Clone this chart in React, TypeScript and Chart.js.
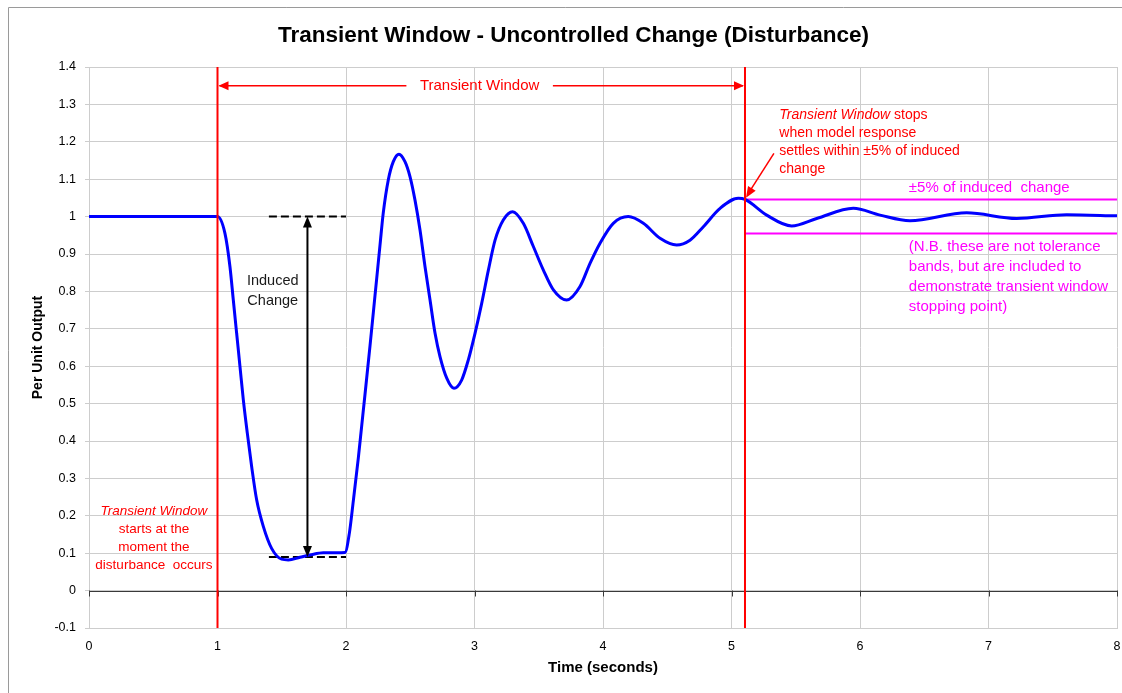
import React, { useEffect, useRef } from "react";
import { Chart, registerables } from "chart.js";

Chart.register(...registerables);

// ---------- data ----------
const timeSeconds = [
  0, 1.0, 1.058, 1.097, 1.123, 1.149, 1.175, 1.201, 1.232, 1.266,
  1.305, 1.357, 1.421, 1.499, 1.551, 1.642, 1.72, 1.823, 1.992, 2.026,
  2.057, 2.096, 2.122, 2.148, 2.187, 2.226, 2.265, 2.29, 2.329, 2.368,
  2.412, 2.459, 2.498, 2.537, 2.576, 2.615, 2.654, 2.693, 2.732, 2.784,
  2.84, 2.9, 2.952, 3.004, 3.056, 3.108, 3.16, 3.224, 3.297, 3.38,
  3.458, 3.536, 3.614, 3.717, 3.821, 3.899, 3.977, 4.08, 4.197, 4.314,
  4.444, 4.573, 4.677, 4.781, 4.911, 5.053, 5.105, 5.274, 5.468, 5.663,
  5.948, 6.156, 6.389, 6.83, 7.219, 7.608, 8.0,
];
const perUnitOutput = [
  1, 1, 0.955, 0.866, 0.777, 0.688, 0.599, 0.51, 0.421, 0.331,
  0.242, 0.171, 0.113, 0.084, 0.082, 0.089, 0.095, 0.101, 0.102, 0.153,
  0.24, 0.355, 0.44, 0.525, 0.655, 0.79, 0.925, 1.01, 1.098, 1.147,
  1.167, 1.147, 1.107, 1.044, 0.964, 0.866, 0.777, 0.688, 0.625, 0.568,
  0.541, 0.563, 0.617, 0.688, 0.768, 0.857, 0.937, 0.991, 1.013, 0.982,
  0.92, 0.857, 0.804, 0.777, 0.813, 0.875, 0.929, 0.982, 1.0, 0.982,
  0.942, 0.924, 0.937, 0.973, 1.022, 1.049, 1.046, 1.004, 0.975, 0.995,
  1.022, 1.004, 0.989, 1.01, 0.995, 1.005, 1.002,
];

const xRange = [0, 8];
const yRange = [-0.1, 1.4];
const xStep = 1;
const yStep = 0.1;

const transientStart = 1.0;
const transientStop = 5.105;
const inducedLevels = [1.0, 0.09]; // before / after disturbance
const inducedDashX = [1.4, 2.0];
const inducedArrowX = 1.7;
const bandLevels = [1.0455, 0.9545]; // ±5% of induced change
const windowArrowY = 1.35;
const windowArrowGap = [2.47, 3.61];
const stopPointer = [[5.33, 1.169], [5.105, 1.048]];

const titleText = "Transient Window - Uncontrolled Change (Disturbance)";
const xTitle = "Time (seconds)";
const yTitle = "Per Unit Output";
const windowLabel = "Transient Window";
const inducedLabel = ["Induced", "Change"];
const startLabel = ["Transient Window", "starts at the", "moment the", "disturbance  occurs"];
const stopLabel = ["Transient Window", " stops", "when model response", "settles within ±5% of induced", "change"];
const bandLabel = "±5% of induced  change";
const noteLabel = [
  "(N.B. these are not tolerance",
  "bands, but are included to",
  "demonstrate transient window",
  "stopping point)",
];

const FONT = "'Liberation Sans', Arial, sans-serif";
const RED = "#ff0000";
const MAGENTA = "#ff00ff";
const BLUE = "#0000ff";
const GRID = "#cdcdcd";

function arrowHead(ctx: CanvasRenderingContext2D, fx: number, fy: number, tx: number, ty: number, len: number, half: number, color: string) {
  const a = Math.atan2(ty - fy, tx - fx);
  ctx.save();
  ctx.fillStyle = color;
  ctx.beginPath();
  ctx.moveTo(tx, ty);
  ctx.lineTo(tx - len * Math.cos(a) + half * Math.sin(a), ty - len * Math.sin(a) - half * Math.cos(a));
  ctx.lineTo(tx - len * Math.cos(a) - half * Math.sin(a), ty - len * Math.sin(a) + half * Math.cos(a));
  ctx.closePath();
  ctx.fill();
  ctx.restore();
}

function segment(ctx: CanvasRenderingContext2D, x1: number, y1: number, x2: number, y2: number, color: string, w: number) {
  ctx.save();
  ctx.strokeStyle = color;
  ctx.lineWidth = w;
  ctx.beginPath();
  ctx.moveTo(x1, y1);
  ctx.lineTo(x2, y2);
  ctx.stroke();
  ctx.restore();
}

const decorPlugin = {
  id: "decor",
  beforeDraw(chart: any) {
    const ctx: CanvasRenderingContext2D = chart.ctx;
    ctx.save();
    ctx.fillStyle = "#ffffff";
    ctx.fillRect(0, 0, chart.width, chart.height);
    ctx.strokeStyle = "#9a9a9a";
    ctx.lineWidth = 1;
    ctx.beginPath();
    ctx.moveTo(8.5, chart.height);
    ctx.lineTo(8.5, 7.5);
    ctx.lineTo(chart.width, 7.5);
    ctx.stroke();
    ctx.restore();
  },
  beforeDatasetsDraw(chart: any) {
    const ctx: CanvasRenderingContext2D = chart.ctx;
    const xs = chart.scales.x;
    const ys = chart.scales.y;
    const y0 = Math.round(ys.getPixelForValue(0)) + 0.5;
    ctx.save();
    ctx.strokeStyle = "#3a3a3a";
    ctx.lineWidth = 1;
    ctx.beginPath();
    ctx.moveTo(chart.chartArea.left, y0);
    ctx.lineTo(chart.chartArea.right, y0);
    for (let v = xRange[0]; v <= xRange[1]; v += xStep) {
      const px = Math.round(xs.getPixelForValue(v)) + 0.5;
      ctx.moveTo(px, y0 - 1);
      ctx.lineTo(px, y0 + 5);
    }
    ctx.stroke();
    ctx.restore();
  },
  afterDatasetsDraw(chart: any) {
    const ctx: CanvasRenderingContext2D = chart.ctx;
    const xs = chart.scales.x;
    const ys = chart.scales.y;
    const X = (v: number) => xs.getPixelForValue(v);
    const Y = (v: number) => ys.getPixelForValue(v);

    // Transient window arrow
    const ay = Y(windowArrowY);
    segment(ctx, X(transientStart) + 2, ay, X(windowArrowGap[0]), ay, RED, 1.5);
    segment(ctx, X(windowArrowGap[1]), ay, X(transientStop) - 2, ay, RED, 1.5);
    arrowHead(ctx, X(transientStart) + 12, ay, X(transientStart) + 1, ay, 10, 4.5, RED);
    arrowHead(ctx, X(transientStop) - 12, ay, X(transientStop) - 1, ay, 10, 4.5, RED);

    // induced change double arrow
    const ix = X(inducedArrowX);
    const iTop = Y(inducedLevels[0]);
    const iBot = Y(inducedLevels[1]);
    segment(ctx, ix, iTop + 6, ix, iBot - 6, "#000000", 2);
    arrowHead(ctx, ix, iTop + 12, ix, iTop, 11, 4.5, "#000000");
    arrowHead(ctx, ix, iBot - 12, ix, iBot, 11, 4.5, "#000000");

    // stop pointer arrow
    const p0x = X(stopPointer[0][0]), p0y = Y(stopPointer[0][1]);
    const p1x = X(stopPointer[1][0]), p1y = Y(stopPointer[1][1]);
    segment(ctx, p0x, p0y, p1x + (p0x - p1x) * 0.15, p1y + (p0y - p1y) * 0.15, RED, 1.5);
    arrowHead(ctx, p0x, p0y, p1x + 1, p1y - 1, 11, 4.5, RED);

    ctx.save();
    ctx.textBaseline = "middle";

    // window label
    ctx.fillStyle = RED;
    ctx.textAlign = "center";
    ctx.font = `15px ${FONT}`;
    ctx.fillText(windowLabel, (X(windowArrowGap[0]) + X(windowArrowGap[1])) / 2, ay);

    // induced change label
    ctx.fillStyle = "#1a1a1a";
    ctx.font = `14.5px ${FONT}`;
    const icx = X(1.43), icy = Y(0.8);
    ctx.fillText(inducedLabel[0], icx, icy - 10);
    ctx.fillText(inducedLabel[1], icx, icy + 10);

    // start label
    ctx.fillStyle = RED;
    const scx = X(0.505), scy = Y(0.14);
    const sStep = 18.3;
    startLabel.forEach((t, i) => {
      ctx.font = i === 0 ? `italic 13.5px ${FONT}` : `13.5px ${FONT}`;
      ctx.fillText(t, scx, scy + (i - 1.5) * sStep);
    });

    // stop label
    ctx.textAlign = "left";
    const rlx = X(5.372), rcy = Y(1.199);
    const rStep = 18.1;
    ctx.font = `italic 14px ${FONT}`;
    ctx.fillText(stopLabel[0], rlx, rcy - 1.5 * rStep);
    const w0 = ctx.measureText(stopLabel[0]).width;
    ctx.font = `14px ${FONT}`;
    ctx.fillText(stopLabel[1], rlx + w0, rcy - 1.5 * rStep);
    for (let i = 2; i < stopLabel.length; i++) {
      ctx.fillText(stopLabel[i], rlx, rcy + (i - 2.5) * rStep);
    }

    // band labels
    ctx.fillStyle = MAGENTA;
    ctx.font = `15px ${FONT}`;
    const mlx = X(6.38);
    ctx.fillText(bandLabel, mlx, Y(1.078));
    const ncy = Y(0.839);
    noteLabel.forEach((t, i) => {
      ctx.fillText(t, mlx, ncy + (i - 1.5) * 20);
    });
    ctx.restore();
  },
};

export default function App() {
  const canvasRef = useRef<HTMLCanvasElement | null>(null);

  useEffect(() => {
    const canvas = canvasRef.current;
    if (!canvas) return;
    const curve = timeSeconds.map((t, i) => ({ x: t, y: perUnitOutput[i] }));
    const hLine = (x0: number, x1: number, y: number) => [{ x: x0, y }, { x: x1, y }];
    const vLine = (x: number) => [{ x, y: yRange[0] }, { x, y: yRange[1] }];
    const base = { pointRadius: 0, fill: false, tension: 0 };

    const chart = new Chart(canvas, {
      type: "line",
      data: {
        datasets: [
          { ...base, label: "start", data: vLine(transientStart), borderColor: RED, borderWidth: 2 },
          { ...base, label: "stop", data: vLine(transientStop), borderColor: RED, borderWidth: 2 },
          { ...base, label: "output", data: curve, borderColor: BLUE, borderWidth: 3, cubicInterpolationMode: "monotone" },
          { ...base, label: "before", data: hLine(inducedDashX[0], inducedDashX[1], inducedLevels[0]), borderColor: "#000", borderWidth: 2, borderDash: [8, 4] },
          { ...base, label: "after", data: hLine(inducedDashX[0], inducedDashX[1], inducedLevels[1]), borderColor: "#000", borderWidth: 2, borderDash: [8, 4] },
          { ...base, label: "band+", data: hLine(transientStop, xRange[1], bandLevels[0]), borderColor: MAGENTA, borderWidth: 2 },
          { ...base, label: "band-", data: hLine(transientStop, xRange[1], bandLevels[1]), borderColor: MAGENTA, borderWidth: 2 },
        ] as any,
      },
      options: {
        animation: false,
        responsive: false,
        maintainAspectRatio: false,
        devicePixelRatio: 1,
        events: [],
        layout: { padding: { left: 30, right: 5, top: 0, bottom: 0 } },
        plugins: {
          legend: { display: false },
          tooltip: { enabled: false },
          title: {
            display: true,
            text: titleText,
            color: "#000",
            font: { family: FONT, size: 22.5, weight: "bold" },
            padding: { top: 22, bottom: 18 },
          },
        },
        scales: {
          x: {
            type: "linear",
            min: xRange[0],
            max: xRange[1],
            ticks: { stepSize: xStep, color: "#000", font: { family: FONT, size: 12.5 }, padding: 11 },
            grid: { color: GRID, drawTicks: false },
            border: { color: GRID },
            title: { display: true, text: xTitle, color: "#000", font: { family: FONT, size: 15, weight: "bold" }, padding: { top: 0, bottom: 16 } },
            afterFit: (s: any) => { s.height = 65; s.paddingLeft = 0; s.paddingRight = 0; },
          },
          y: {
            type: "linear",
            min: yRange[0],
            max: yRange[1],
            ticks: {
              stepSize: yStep,
              color: "#000",
              font: { family: FONT, size: 12.5 },
              padding: 9,
              callback: (v: any) => String(Math.round(Number(v) * 10) / 10),
            },
            grid: { color: GRID, tickLength: 4 },
            border: { color: GRID },
            title: { display: true, text: yTitle, color: "#000", font: { family: FONT, size: 14, weight: "bold" }, padding: { top: 0, bottom: 0 } },
            afterFit: (s: any) => { s.width = 59; },
          },
        },
      } as any,
      plugins: [decorPlugin as any],
    });
    return () => chart.destroy();
  }, []);

  return (
    <div style={{ position: "fixed", left: 0, top: 0, width: 1122, height: 693, background: "#fff" }}>
      <canvas ref={canvasRef} width={1122} height={693} style={{ display: "block", width: 1122, height: 693 }} />
    </div>
  );
}
